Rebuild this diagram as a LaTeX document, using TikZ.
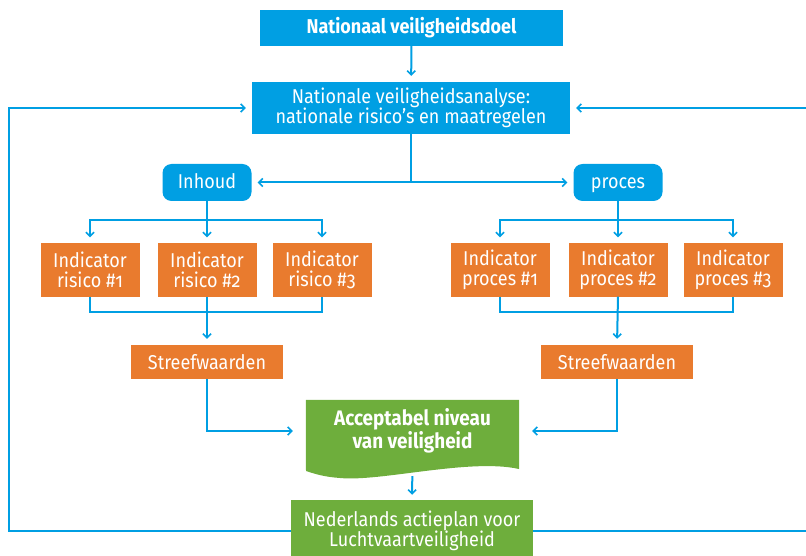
\documentclass[tikz,border=0pt]{standalone}
\usepackage{fontspec}
\setmainfont[FakeStretch=0.9, Numbers=OldStyle]{Fira Sans}
\usepackage{xcolor}
\usepackage{tikz}
\usetikzlibrary{arrows.meta, positioning, backgrounds}
\definecolor{hemel}{RGB}{0,159,227}
\definecolor{oranje}{RGB}{233,123,46}
\definecolor{groen}{RGB}{110,174,60}
\tikzstyle{line} = [draw=hemel, line width=2pt]
\tikzstyle{arrow} = [line, -{Straight Barb[length=4pt, width=8pt, line width=1.6pt]}, shorten >=6pt]
\tikzstyle{box} = [rectangle, text=white, inner sep=0pt, align=center, font=\fontsize{20}{20}\selectfont]
\tikzstyle{bluebox} = [box, fill=hemel]
\tikzstyle{orangebox} = [box, fill=oranje, minimum width=99pt, minimum height=53pt]
\tikzstyle{greenbox} = [box, fill=groen]
\tikzstyle{pill} = [bluebox, rounded corners=9pt, minimum width=89pt, minimum height=37pt, text height=15.5pt, text depth=2.5pt]
\tikzset{every node/.style={align=center}}

\begin{document}
\begin{tikzpicture}[x=1pt, y=-1pt]
    \useasboundingbox (0,0) rectangle (806,556);
    \node (doel) [bluebox, minimum width=303pt, minimum height=36pt, font=\fontsize{20}{20}\selectfont\bfseries] at (411.5,28) {Nationaal veiligheidsdoel};
    \node (analyse) [bluebox, minimum width=318pt, minimum height=52pt] at (411,108) {Nationale veiligheidsanalyse:\\nationale risico’s en maatregelen};
    \node (inhoud) [pill] at (207,182.5) {Inhoud};
    \node (proces) [pill] at (618,182.5) {proces};

    \node (r1) [orangebox] at (90,270) {Indicator\\risico \#1};
    \node (r2) [orangebox] at (207,270) {Indicator\\risico \#2};
    \node (r3) [orangebox] at (322,270) {Indicator\\risico \#3};
    \node (p1) [orangebox] at (500,270) {Indicator\\proces \#1};
    \node (p2) [orangebox] at (618,270) {Indicator\\proces \#2};
    \node (p3) [orangebox] at (733,270) {Indicator\\proces \#3};

    \node (s1) [orangebox, minimum width=152pt, minimum height=34pt] at (207,362) {Streefwaarden};
    \node (s2) [orangebox, minimum width=152pt, minimum height=34pt] at (617,362) {Streefwaarden};

    \node (acc) [box, minimum width=213pt, minimum height=62pt, font=\fontsize{21}{23}\selectfont\bfseries] at (412.5,431) {Acceptabel niveau\\van veiligheid};
    \begin{pgfonlayer}{background}
        \fill [groen] (acc.north west) -- (acc.north east) -- (519,469)
            .. controls (470,458) and (380,482) .. (340,478)
            .. controls (325,477) and (315,474) .. (306,471) -- cycle;
    \end{pgfonlayer}
    \node (actie) [greenbox, minimum width=242pt, minimum height=62pt] at (412,531) {Nederlands actieplan voor\\Luchtvaartveiligheid};

    \coordinate (lusl) at (9,300);
    \coordinate (lusr) at (813,300);

    \draw [arrow] (doel) -- (analyse);
    \draw [arrow] (analyse.south) |- (inhoud.east);
    \draw [arrow] (analyse.south) |- (proces.west);

    \draw [arrow] (inhoud.south) -- ++(0,19) -| (r1.north);
    \draw [arrow] (inhoud.south) -- ++(0,19) -| (r3.north);
    \draw [arrow] (inhoud.south) -- (r2.north);
    \draw [arrow] (proces.south) -- ++(0,19) -| (p1.north);
    \draw [arrow] (proces.south) -- ++(0,19) -| (p3.north);
    \draw [arrow] (proces.south) -- (p2.north);

    \draw [line] (r1.south) -- ++(0,15) -| (r3.south);
    \draw [arrow] (r2.south) -- (s1.north);
    \draw [line] (p1.south) -- ++(0,15) -| (p3.south);
    \draw [arrow] (p2.south) -- (s2.north);

    \draw [arrow, shorten >=13pt] (s1.south) |- (acc.west);
    \draw [arrow, shorten >=13pt] (s2.south) |- (acc.east);
    \draw [arrow, shorten <=14pt, shorten >=5pt] (acc.south) -- (actie.north);

    \draw [arrow] (actie.west) -| (lusl) |- (analyse.west);
    \draw [arrow] (actie.east) -| (lusr) |- (analyse.east);
\end{tikzpicture}
\end{document}
